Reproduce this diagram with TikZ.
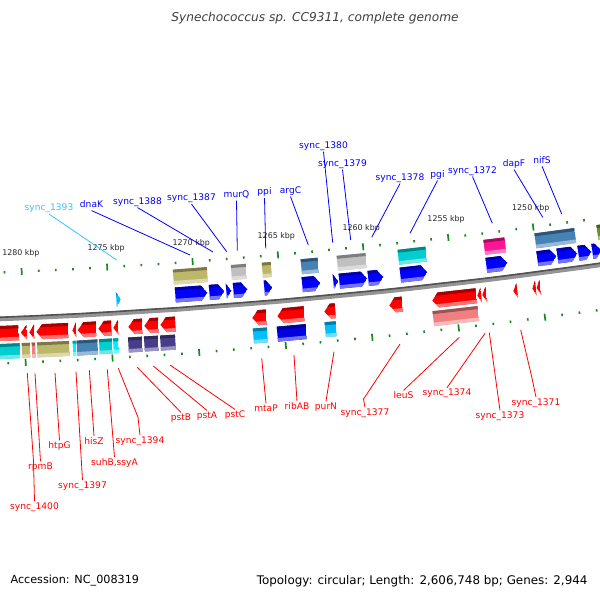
\documentclass[tikz,border=0pt]{standalone}
\usepackage{fontspec}
\setmainfont{DejaVu Sans}
\usepackage{tikz}

\definecolor{tickgreen}{HTML}{1A8A1A}
\definecolor{skylbl}{HTML}{33C4FF}
\definecolor{cogtan}{HTML}{BDB76B}
\definecolor{coggray}{HTML}{C0C0C0}
\definecolor{cogsteel}{HTML}{4682B4}
\definecolor{cogturq}{HTML}{00CED1}
\definecolor{cogcyan}{HTML}{00F0FF}
\definecolor{cogpink}{HTML}{FF1493}
\definecolor{cogslate}{HTML}{483D8B}
\definecolor{cogcoral}{HTML}{F08080}
\definecolor{cogsky}{HTML}{00BFFF}
\definecolor{cogblue}{HTML}{0000E0}
\definecolor{cogolive}{HTML}{6B8E23}

% angle on the ring of radius #3 that lies under screen x #2
\newcommand{\ringang}[3]{%
  \pgfmathsetmacro\ringu{(#2+243)/#3}%
  \pgfmathsetmacro#1{90-57.2958*\ringu-9.549*\ringu^3}}

% radius, x left, x right
\newcommand{\genesetup}[3]{%
  \ringang\aL{#2+0.5}{#1}\ringang\aR{#3-0.5}{#1}%
  \pgfmathsetmacro\aLx{\aL+0.1}\pgfmathsetmacro\aRx{\aR-0.1}%
  \pgfmathsetmacro\rIn{#1-7.5}\pgfmathsetmacro\rOut{#1+7.5}%
  \pgfmathsetmacro\rTop{#1-4.5}\pgfmathsetmacro\rBot{#1+4}%
  \pgfmathsetmacro\rEdge{#1-9}\pgfmathsetmacro\rEdgo{#1+9}%
  \def\rMid{#1}}

% fill \gshape with a dark top band and a light bottom band
\newcommand{\genefill}[1]{%
  \begin{scope}
    \clip \gshape;
    \fill[#1] \gshape;
    \fill[#1!65!black] (\aLx:\rEdge) -- (\aRx:\rEdge) -- (\aRx:\rTop) -- (\aLx:\rTop) -- cycle;
    \fill[#1!55!white] (\aLx:\rBot) -- (\aRx:\rBot) -- (\aRx:\rEdgo) -- (\aLx:\rEdgo) -- cycle;
  \end{scope}}

\newcommand{\cogbox}[4]{\genesetup{#1}{#2}{#3}%
  \def\gshape{(\aL:\rIn) -- (\aR:\rIn) -- (\aR:\rOut) -- (\aL:\rOut) -- cycle}%
  \genefill{#4}}
\newcommand{\cdsright}[4]{\genesetup{#1}{#2}{#3}%
  \pgfmathsetmacro\aH{min(\aL,\aR+0.057)}%
  \def\gshape{(\aL:\rIn) -- (\aH:\rIn) -- (\aR:\rMid) -- (\aH:\rOut) -- (\aL:\rOut) -- cycle}%
  \genefill{#4}}
\newcommand{\cdsleft}[4]{\genesetup{#1}{#2}{#3}%
  \pgfmathsetmacro\aH{max(\aR,\aL-0.057)}%
  \def\gshape{(\aR:\rIn) -- (\aH:\rIn) -- (\aL:\rMid) -- (\aH:\rOut) -- (\aR:\rOut) -- cycle}%
  \genefill{#4}}

\begin{document}
\begin{tikzpicture}[x=1pt, y=-1pt,
    lbl/.style={font=\fontsize{9.1}{10}\selectfont, inner sep=1pt, text height=6.8pt, text depth=1.9pt},
    fwdlbl/.style={lbl, text=blue},
    revlbl/.style={lbl, text=red},
    kbp/.style={font=\fontsize{7.9}{9}\selectfont, text=black!85},
    tick/.style={draw=tickgreen, line width=1.7pt},
    fwdlead/.style={draw=blue, line width=0.8pt},
    revlead/.style={draw=red, line width=0.8pt}]
\useasboundingbox (0,0) rectangle (600,600);
\clip (0,0) rectangle (600,600);

\begin{scope}[shift={(-243,-5722.3)}]
  % backbone
  \draw[line width=4.6pt, black!42] plot[domain=81:88.5, samples=40] (\x:6046.5);
  \draw[line width=1.6pt, black!68] plot[domain=81:88.5, samples=40] (\x:6044.8);

  % kbp ticks, inner and outer ring
  \foreach \p in {1246,...,1281}{
    \pgfmathsetmacro\a{85.0185+(\p-1265)*0.16348}
    \pgfmathtruncatemacro\md{mod(\p,5)}
    \ifnum\md=0
      \draw[tick] (\a:5996.5) -- (\a:6003.5);
      \draw[tick] (\a:6087.5) -- (\a:6094.5);
      \node[kbp] (k\p) at (\a:5981.5) {\p\ kbp};
    \else
      \draw[tick] (\a:5998.8) -- (\a:6001.2);
      \draw[tick] (\a:6089.8) -- (\a:6092.2);
    \fi
  }

  % inner strand: COG boxes and CDS
  \foreach \xl/\xr/\col in {173/208/cogtan, 231/247/coggray, 262/272/cogtan,
      301/319/cogsteel, 337/367/coggray, 398/427/cogturq, 484/506/cogpink,
      535/576/cogsteel, 597/612/cogolive}
    \cogbox{6014}{\xl}{\xr}{\col};
  \foreach \xl/\xr in {175/208, 209/225, 226/232, 233/248, 264/273, 302/321,
      333/339, 339/368, 368/384, 400/428, 486/508, 537/557, 557/578,
      578/592, 592/602}
    \cdsright{6032}{\xl}{\xr}{blue};
  \cdsright{6033}{116}{121.5}{cogsky};

  % outer strand: CDS and COG boxes
  \foreach \xl/\xr in {-12/19.5, 20.5/27.5, 29/35, 36/69, 72/77, 77.5/97,
      98/112, 113/119, 128/143, 144/159, 160/176, 252/267, 277/305, 324/336,
      389/403, 432/477, 477/482, 482/487, 513/518, 532/536.5, 536.5/541}
    \cdsleft{6061}{\xl}{\xr}{red};
  \foreach \xl/\xr/\col in {-12/20.7/cogturq, 21.7/31/cogtan, 31.7/36/cogcoral,
      37/70/cogtan, 72.7/76.7/cogcyan, 76.7/98.3/cogsteel, 99/113/cogturq,
      113/119.3/cogcyan, 128/143/cogslate, 144/159/cogslate, 160/176/cogslate,
      253/268/cogsky, 277/307/cogblue, 325/337/cogsky, 433/479/cogcoral}
    \cogbox{6079}{\xl}{\xr}{\col};
\end{scope}

% title and footer
\node[font=\fontsize{12.2}{14}\selectfont\itshape, text=black!75] (title) at (315,18)
  {Synechococcus sp. CC9311, complete genome};
\node[anchor=west, font=\fontsize{11.2}{13}\selectfont] (acc) at (7,581) {Accession: NC\_008319};
\node[anchor=east, font=\fontsize{11.9}{13}\selectfont] (topo) at (591,581)
  {Topology: circular; Length: 2,606,748 bp; Genes: 2,944};

% inner strand labels
\node[lbl, text=skylbl] (l-1393) at (49,208.5) {sync\_1393};
\node[fwdlbl] (l-dnaK) at (91.5,205) {dnaK};
\node[fwdlbl] (l-1388) at (137.5,202) {sync\_1388};
\node[fwdlbl] (l-1387) at (191.5,198.5) {sync\_1387};
\node[fwdlbl] (l-murQ) at (236.5,195) {murQ};
\node[fwdlbl] (l-ppi) at (264.5,192.5) {ppi};
\node[fwdlbl] (l-argC) at (290.5,191) {argC};
\node[fwdlbl] (l-1380) at (323.5,146) {sync\_1380};
\node[fwdlbl] (l-1379) at (342.5,164) {sync\_1379};
\node[fwdlbl] (l-1378) at (400,178) {sync\_1378};
\node[fwdlbl] (l-pgi) at (437.5,175) {pgi};
\node[fwdlbl] (l-1372) at (472.5,171) {sync\_1372};
\node[fwdlbl] (l-dapF) at (514,164) {dapF};
\node[fwdlbl] (l-nifS) at (542,160.7) {nifS};

\coordinate (e-1393) at (116.7,260);
\coordinate (e-dnaK) at (190,255);
\coordinate (e-1388) at (213,252);
\coordinate (e-1387) at (226.7,251.7);
\coordinate (e-murQ) at (237.3,250.7);
\coordinate (e-ppi) at (265.7,248.3);
\coordinate (e-argC) at (308.3,245);
\coordinate (e-1380) at (332.7,242.7);
\coordinate (e-1379) at (350.7,240);
\coordinate (e-1378) at (371.7,237.3);
\coordinate (e-pgi) at (410,233.3);
\coordinate (e-1372) at (492.3,223.3);
\coordinate (e-dapF) at (542.7,217.3);
\coordinate (e-nifS) at (561.7,214);

\draw[line width=0.8pt, skylbl] (l-1393.south) -- (e-1393);
\foreach \g in {dnaK, 1388, 1387, murQ, ppi, argC, 1380, 1379, 1378, pgi, 1372, dapF, nifS}
  \draw[fwdlead] (l-\g.south) -- (e-\g);

% outer strand labels
\node[revlbl] (l-1400) at (34.5,506.7) {sync\_1400};
\node[revlbl] (l-rpmB) at (40.5,467) {rpmB};
\node[revlbl] (l-htpG) at (59.5,446) {htpG};
\node[revlbl] (l-1397) at (82.5,485.7) {sync\_1397};
\node[revlbl] (l-hisZ) at (94,441.7) {hisZ};
\node[revlbl] (l-suhB) at (114.5,462.7) {suhB,ssyA};
\node[revlbl] (l-1394) at (140,440.7) {sync\_1394};
\node[revlbl] (l-pstB) at (181,418) {pstB};
\node[revlbl] (l-pstA) at (207,416) {pstA};
\node[revlbl] (l-pstC) at (235,415) {pstC};
\node[revlbl] (l-mtaP) at (266,409) {mtaP};
\node[revlbl] (l-ribAB) at (297,407) {ribAB};
\node[revlbl] (l-purN) at (326,406.7) {purN};
\node[revlbl] (l-1377) at (365,412.7) {sync\_1377};
\node[revlbl] (l-leuS) at (403.5,396) {leuS};
\node[revlbl] (l-1374) at (447,393.3) {sync\_1374};
\node[revlbl] (l-1373) at (500,416) {sync\_1373};
\node[revlbl] (l-1371) at (536,402.7) {sync\_1371};

\coordinate (e-1400) at (27.3,373);
\coordinate (e-rpmB) at (35,373.3);
\coordinate (e-htpG) at (55,372.7);
\coordinate (e-1397) at (76,371.7);
\coordinate (e-hisZ) at (89.3,370);
\coordinate (e-suhB) at (107.3,369.3);
\coordinate (e-1394) at (118.3,368.3);
\coordinate (e-pstB) at (137.3,367.3);
\coordinate (e-pstA) at (153.3,366);
\coordinate (e-pstC) at (170,365);
\coordinate (e-mtaP) at (261.7,358.3);
\coordinate (e-ribAB) at (294,355);
\coordinate (e-purN) at (334,351.7);
\coordinate (e-1377) at (400,344);
\coordinate (e-leuS) at (459.3,337.3);
\coordinate (e-1374) at (485,333.3);
\coordinate (e-1373) at (489.3,332.7);
\coordinate (e-1371) at (520.7,330);

\foreach \g in {rpmB, htpG, 1397, hisZ, suhB, pstB, pstA, pstC, mtaP, ribAB, purN, leuS, 1374, 1373}
  \draw[revlead] (l-\g.north) -- (e-\g);
\draw[revlead] (l-1400.north) -- ++(-1,-40) -- (e-1400);
\draw[revlead] (l-1394.north) -- ++(-2,-18) -- (e-1394);
\draw[revlead] (l-1377.north) -- ++(-1.5,-8) -- (e-1377);
\draw[revlead] (l-1371.north) -- ++(-4,-19) -- (e-1371);
\end{tikzpicture}
\end{document}
